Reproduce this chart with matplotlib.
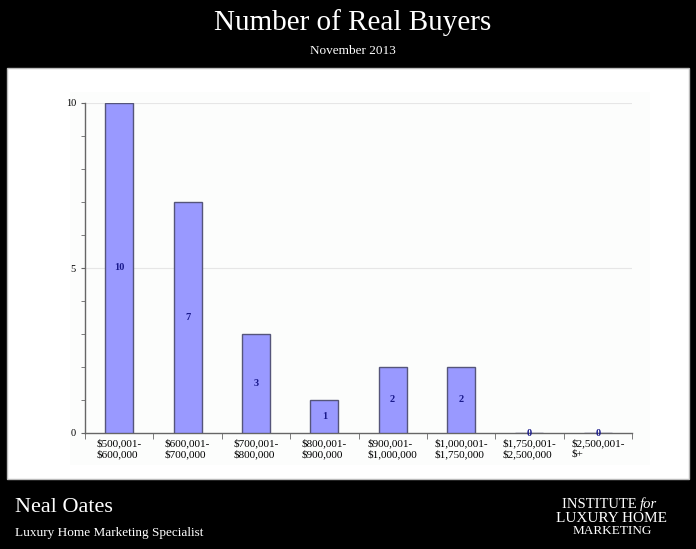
import matplotlib
matplotlib.use("Agg")
import matplotlib.pyplot as plt
from matplotlib.patches import Rectangle

categories = ["$500,001-\n$600,000", "$600,001-\n$700,000", "$700,001-\n$800,000",
              "$800,001-\n$900,000", "$900,001-\n$1,000,000", "$1,000,001-\n$1,750,000",
              "$1,750,001-\n$2,500,000", "$2,500,001-\n$+"]
values = [10, 7, 3, 1, 2, 2, 0, 0]
title = "Number of Real Buyers"
subtitle = "November 2013"

serif = ["Liberation Serif", "DejaVu Serif"]
W, H = 696, 549
fig = plt.figure(figsize=(W / 100, H / 100), dpi=100)
fig.patch.set_facecolor("black")

# white panel
fig.add_artist(Rectangle((7 / W, 1 - 479 / H), (689 - 7) / W, (479 - 68) / H,
                         transform=fig.transFigure, facecolor="white",
                         edgecolor="#bbbbbb", lw=1, zorder=0))
fig.add_artist(Rectangle((70 / W, 1 - 465 / H), (650 - 70) / W, (465 - 92) / H,
                         transform=fig.transFigure, facecolor="#fcfdfc",
                         edgecolor="none", zorder=0))

cx = 353 / W
fig.text(cx, 1 - 23 / H, title, ha="center", va="center", color="white",
         fontsize=21, family=serif)
fig.text(cx, 1 - 51 / H, subtitle, ha="center", va="center", color="white",
         fontsize=9.5, family=serif)
fig.text(15 / W, 1 - 507 / H, "Neal Oates", ha="left", va="center", color="white",
         fontsize=16, family=serif)
fig.text(15 / W, 1 - 533 / H, "Luxury Home Marketing Specialist", ha="left",
         va="center", color="white", fontsize=9.5, family=serif)
fig.text(640 / W, 1 - 504 / H, "INSTITUTE ", ha="right", va="center",
         color="white", fontsize=10.5, family=serif)
fig.text(640 / W, 1 - 504 / H, "for", ha="left", va="center",
         color="white", fontsize=10.5, family=serif, style="italic")
fig.text(612 / W, 1 - 518 / H, "LUXURY HOME", ha="center", va="center",
         color="white", fontsize=11, family=serif)
fig.text(612 / W, 1 - 531 / H, "MARKETING", ha="center", va="center",
         color="white", fontsize=9.5, family=serif)

ax = fig.add_axes([85 / W, 1 - 433 / H, (632 - 85) / W, (433 - 103) / H])
ax.set_facecolor("none")
x = list(range(len(values)))
bars = ax.bar(x, values, width=0.41, color="#9999ff", edgecolor="#55557a",
              linewidth=1, zorder=3)
for xi, v in zip(x, values):
    ax.text(xi, v / 2, str(v), ha="center", va="center", color="#1a1a8c",
            fontsize=7.5, fontweight="bold", family=serif, zorder=6, clip_on=False)

ax.set_xlim(-0.5, len(values) - 0.5)
ax.set_ylim(0, 10)
ax.set_yticks([0, 5, 10])
ax.set_yticks(range(0, 11), minor=True)
ax.set_yticklabels(["0", "5", "10"], family=serif, fontsize=7.5)
ax.set_xticks(x)
ax.set_xticklabels(categories, family=serif, fontsize=8, multialignment="left")
ax.set_xticks([i + 0.5 for i in range(-1, len(values))], minor=True)
ax.tick_params(axis="x", which="major", length=0, pad=4)
ax.tick_params(axis="x", which="minor", length=4, direction="out", color="#666666")
ax.tick_params(axis="y", which="both", length=3, direction="out", color="#666666")
for g in [5, 10]:
    ax.axhline(g, color="#e6e6e6", lw=0.8, zorder=1)
for s in ["top", "right"]:
    ax.spines[s].set_visible(False)
for s in ["left", "bottom"]:
    ax.spines[s].set_color("#666666")
    ax.spines[s].set_linewidth(1)

fig.savefig("out.png", dpi=100, facecolor="black")
